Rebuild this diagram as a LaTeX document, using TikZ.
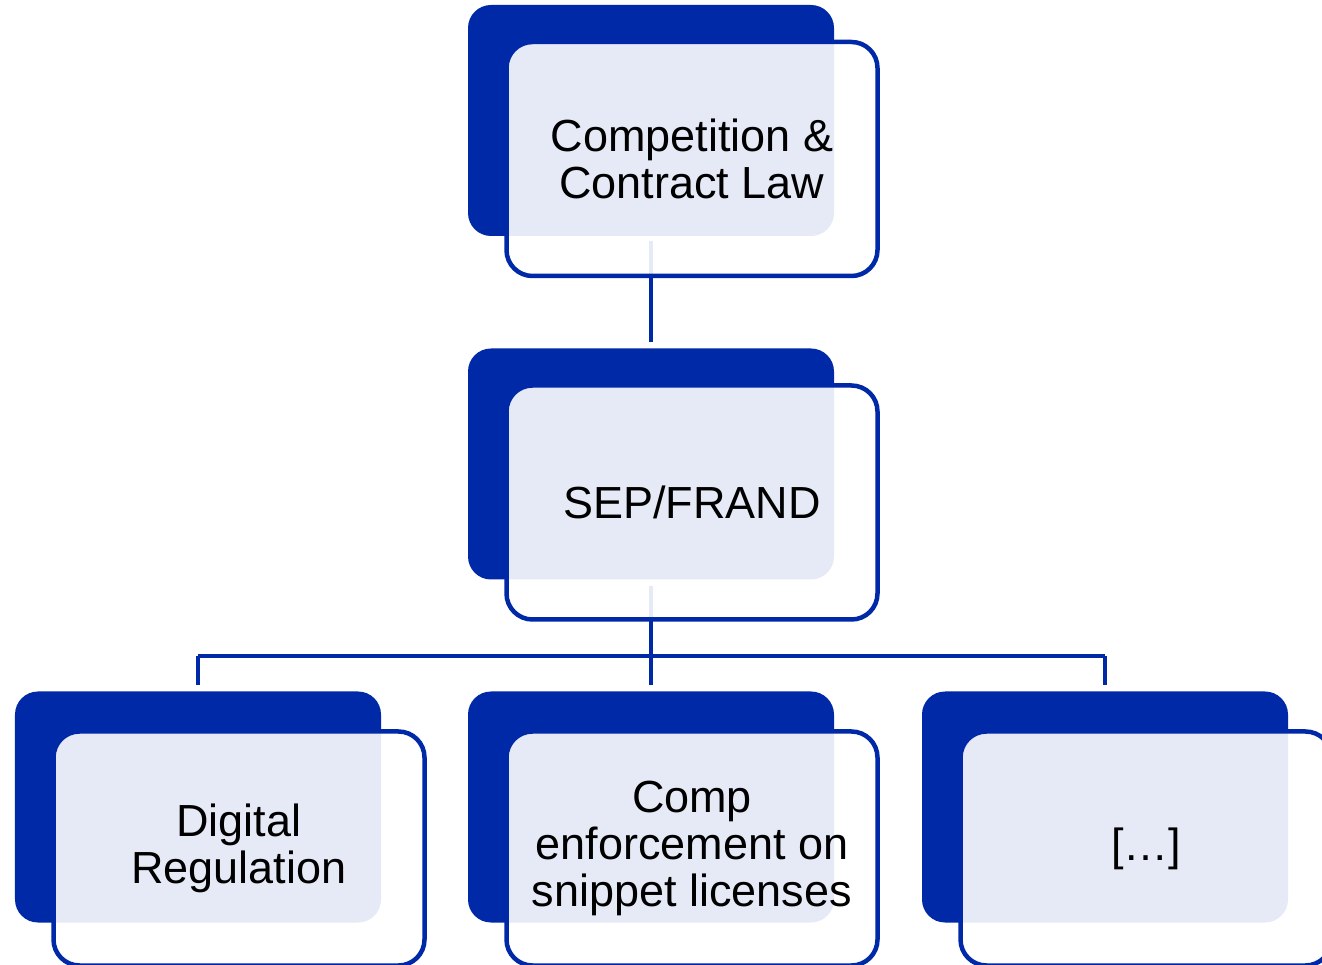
\documentclass[tikz,border=0pt]{standalone}
\usepackage{fontspec}
\setmainfont{Liberation Sans}
\usepackage{tikz}
\definecolor{plateBlue}{RGB}{0, 41, 167}

\begin{document}
\begin{tikzpicture}[
    plate/.style={fill=plateBlue, rounded corners=0.23cm, minimum width=3.66cm,
        minimum height=2.31cm, inner sep=0pt},
    card/.style={draw=plateBlue, line width=0.045cm, fill=white, fill opacity=0.9,
        text opacity=1, rounded corners=0.26cm, minimum width=3.71cm,
        minimum height=2.34cm, inner sep=0pt, align=center,
        font=\fontsize{12.8}{13.3}\selectfont, xshift=0.41cm, yshift=-0.385cm},
    link/.style={draw=plateBlue, line width=0.04cm}
  ]
    \useasboundingbox (0,0) rectangle (13.22,-9.65);
    % back plates
    \node[plate] (law) at (6.51,-1.205) {};
    \node[plate] (sep) at (6.51,-4.64) {};
    \node[plate] (dig) at (1.98,-8.07) {};
    \node[plate] (snip) at (6.51,-8.07) {};
    \node[plate] (dots) at (11.05,-8.07) {};
    \coordinate (bar) at (6.51,-6.56);
    % connectors
    \draw[link, shorten <=0.04cm, shorten >=0.06cm] (law.south) -- (sep.north);
    \draw[link, shorten <=0.06cm, shorten >=0.06cm] (sep.south) -- (snip.north);
    \draw[link] (dig.north |- bar) -- (dots.north |- bar);
    \foreach \n in {dig,dots} {
        \draw[link, shorten >=0.06cm] (\n.north |- bar) -- (\n.north);
    }
    % cards
    \node[card] (lawT) at (law) {Competition \&\\Contract Law};
    \node[card] (sepT) at (sep) {SEP/FRAND};
    \node[card, yshift=-0.03cm] (digT) at (dig) {Digital\\Regulation};
    \node[card, yshift=-0.03cm] (snipT) at (snip) {Comp\\enforcement on\\snippet licenses};
    \node[card, yshift=-0.03cm] (dotsT) at (dots) {[\ldots]};
\end{tikzpicture}
\end{document}
